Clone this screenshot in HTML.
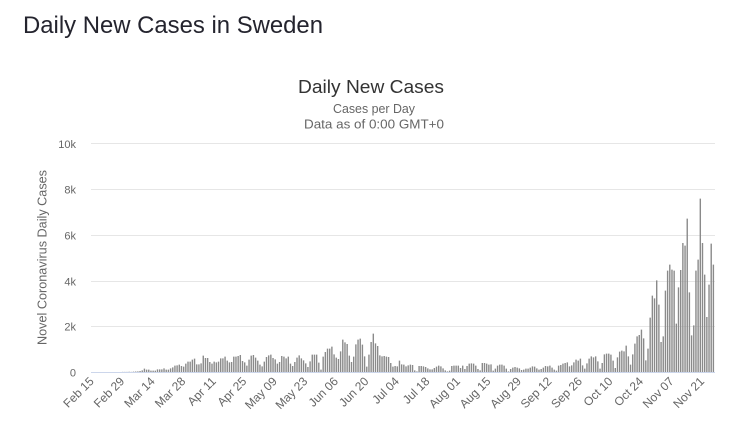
<!DOCTYPE html>
<html>
<head>
<meta charset="utf-8">
<style>
html,body{margin:0;padding:0;background:#fff;width:729px;height:428px;overflow:hidden}
svg{display:block}
text{font-family:"Liberation Sans",Arial,sans-serif}
</style>
</head>
<body>
<svg width="729" height="428" viewBox="0 0 729 428" xmlns="http://www.w3.org/2000/svg">
<rect width="729" height="428" fill="#fff"/>
<text x="23" y="33" font-size="24" fill="#24242e" textLength="300" lengthAdjust="spacingAndGlyphs">Daily New Cases in Sweden</text>
<text x="371" y="93" font-size="18.5" fill="#333" text-anchor="middle" textLength="146" lengthAdjust="spacingAndGlyphs">Daily New Cases</text>
<text x="374" y="113" font-size="12.5" fill="#666" text-anchor="middle" textLength="82" lengthAdjust="spacingAndGlyphs">Cases per Day</text>
<text x="374" y="128.5" font-size="12.5" fill="#666" text-anchor="middle" textLength="140" lengthAdjust="spacingAndGlyphs">Data as of 0:00 GMT+0</text>

<path d="M91 143.5H715M91 189.5H715M91 235.5H715M91 281.5H715M91 326.5H715" stroke="#e6e6e6" stroke-width="1" fill="none"/>

<g font-size="11" fill="#666" text-anchor="end">
<text x="76" y="148">10k</text>
<text x="76" y="193.5">8k</text>
<text x="76" y="239.5">6k</text>
<text x="76" y="285.5">4k</text>
<text x="76" y="330.5">2k</text>
<text x="76" y="376.5">0</text>
</g>

<text transform="translate(46.5,257.5) rotate(-90)" text-anchor="middle" font-size="12.5" fill="#666" textLength="175" lengthAdjust="spacingAndGlyphs">Novel Coronavirus Daily Cases</text>

<g transform="translate(117.55,372) scale(1,-0.33333)">
<path fill="#8a8a8a" d="M0 0m2.18 0m2.18 0v.3h1.4v-.3m.78 0v.3h1.4v-.3m.78 0v.5h1.4v-.5m.78 0v.8h1.4v-.8m.78 0v.5h1.4v-.5m.78 0v1h1.4v-1m.78 0v1.5h1.4v-1.5m.78 0v2h1.4v-2m.78 0
v3h1.4v-3m.78 0v5h1.4v-5m.78 0v10h1.4v-10m.78 0v7h1.4v-7m.78 0v7h1.4v-7m.78 0v4h1.4v-4m.78 0v4h1.4v-4m.78 0v4h1.4v-4m.78 0v8h1.4v-8m.78 0v8h1.4v-8m.78 0
v8h1.4v-8m.78 0v11h1.4v-11m.78 0v7h1.4v-7m.78 0v7h1.4v-7m.78 0v11h1.4v-11m.78 0v14h1.4v-14m.78 0v19h1.4v-19m.78 0v20h1.4v-20m.78 0v22h1.4v-22m.78 0v18h1.4v-18m.78 0
v16h1.4v-16m.78 0v25h1.4v-25m.78 0v31h1.4v-31m.78 0v31h1.4v-31m.78 0v37h1.4v-37m.78 0v40h1.4v-40m.78 0v23h1.4v-23m.78 0v23h1.4v-23m.78 0v26h1.4v-26m.78 0v49h1.4v-49m.78 0
v42h1.4v-42m.78 0v42h1.4v-42m.78 0v30h1.4v-30m.78 0v25h1.4v-25m.78 0v31h1.4v-31m.78 0v29h1.4v-29m.78 0v31h1.4v-31m.78 0v41h1.4v-41m.78 0v41h1.4v-41m.78 0v46h1.4v-46m.78 0
v34h1.4v-34m.78 0v29h1.4v-29m.78 0v30h1.4v-30m.78 0v46h1.4v-46m.78 0v46h1.4v-46m.78 0v48h1.4v-48m.78 0v51h1.4v-51m.78 0v33h1.4v-33m.78 0v29h1.4v-29m.78 0v19h1.4v-19m.78 0
v37h1.4v-37m.78 0
v49h1.4v-49m.78 0v51h1.4v-51m.78 0v43h1.4v-43m.78 0v34h1.4v-34m.78 0v22h1.4v-22m.78 0v17h1.4v-17m.78 0v31h1.4v-31m.78 0v45h1.4v-45m.78 0v50h1.4v-50m.78 0v52h1.4v-52m.78 0
v42h1.4v-42m.78 0v38h1.4v-38m.78 0v25h1.4v-25m.78 0v30h1.4v-30m.78 0v48h1.4v-48m.78 0v46h1.4v-46m.78 0v41h1.4v-41m.78 0v46h1.4v-46m.78 0v25h1.4v-25m.78 0v18h1.4v-18m.78 0
v30h1.4v-30m.78 0v43h1.4v-43m.78 0v50h1.4v-50m.78 0v41h1.4v-41m.78 0v35h1.4v-35m.78 0v26h1.4v-26m.78 0v15h1.4v-15m.78 0v32h1.4v-32m.78 0v52h1.4v-52m.78 0v52h1.4v-52m.78 0
v52h1.4v-52m.78 0v28h1.4v-28m.78 0v7h1.4v-7m.78 0v46h1.4v-46m.78 0v60h1.4v-60m.78 0v70h1.4v-70m.78 0v70h1.4v-70m.78 0v76h1.4v-76m.78 0v53h1.4v-53m.78 0v43h1.4v-43m.78 0
v39h1.4v-39m.78 0v62h1.4v-62m.78 0v97h1.4v-97m.78 0v89h1.4v-89m.78 0v84h1.4v-84m.78 0v49h1.4v-49m.78 0v30h1.4v-30m.78 0v46h1.4v-46m.78 0v83h1.4v-83m.78 0v97h1.4v-97m.78 0
v100h1.4v-100m.78 0v82h1.4v-82m.78 0v47h1.4v-47m.78 0v16h1.4v-16m.78 0v52h1.4v-52m.78 0v90h1.4v-90m.78 0v115h1.4v-115m.78 0v86h1.4v-86m.78 0v78h1.4v-78m.78 0v50h1.4v-50m.78 0
v47h1.4v-47m.78 0v48h1.4v-48m.78 0v46h1.4v-46m.78 0v45h1.4v-45m.78 0v27h1.4v-27m.78 0v16h1.4v-16m.78 0v18h1.4v-18m.78 0v17h1.4v-17m.78 0v34h1.4v-34m.78 0v23h1.4v-23m.78 0
v22h1.4v-22m.78 0v17h1.4v-17m.78 0v20h1.4v-20m.78 0
v22h1.4v-22m.78 0v21h1.4v-21m.78 0v5h1.4v-5m.78 0v2h1.4v-2m.78 0v18h1.4v-18m.78 0v18h1.4v-18m.78 0v17h1.4v-17m.78 0v15h1.4v-15m.78 0v11h1.4v-11m.78 0v8h1.4v-8m.78 0
v8h1.4v-8m.78 0v12h1.4v-12m.78 0v16h1.4v-16m.78 0v19h1.4v-19m.78 0v17h1.4v-17m.78 0v11h1.4v-11m.78 0v5h1.4v-5m.78 0v2h1.4v-2m.78 0v4h1.4v-4m.78 0v18h1.4v-18m.78 0
v19h1.4v-19m.78 0v19h1.4v-19m.78 0v19h1.4v-19m.78 0v12h1.4v-12m.78 0v19h1.4v-19m.78 0v9h1.4v-9m.78 0v18h1.4v-18m.78 0v25h1.4v-25m.78 0v26h1.4v-26m.78 0v25h1.4v-25m.78 0
v19h1.4v-19m.78 0v9h1.4v-9m.78 0v5h1.4v-5m.78 0v27h1.4v-27m.78 0v27h1.4v-27m.78 0v25h1.4v-25m.78 0v22h1.4v-22m.78 0v23h1.4v-23m.78 0
v4h1.4v-4m.78 0v10h1.4v-10m.78 0v19h1.4v-19m.78 0v22h1.4v-22m.78 0v22h1.4v-22m.78 0v19h1.4v-19m.78 0v10h1.4v-10m.78 0v2h1.4v-2m.78 0v9h1.4v-9m.78 0v13h1.4v-13m.78 0
v15h1.4v-15m.78 0v13h1.4v-13m.78 0v11h1.4v-11m.78 0v6h1.4v-6m.78 0v7h1.4v-7m.78 0v10h1.4v-10m.78 0v10h1.4v-10m.78 0v13h1.4v-13m.78 0v17h1.4v-17m.78 0v16h1.4v-16m.78 0
v11h1.4v-11m.78 0v7h1.4v-7m.78 0v9h1.4v-9m.78 0v13h1.4v-13m.78 0v18h1.4v-18m.78 0v17h1.4v-17m.78 0v19h1.4v-19m.78 0v13h1.4v-13m.78 0v7h1.4v-7m.78 0v4h1.4v-4m.78 0
v19h1.4v-19m.78 0v21h1.4v-21m.78 0v25h1.4v-25m.78 0v27h1.4v-27m.78 0v29h1.4v-29m.78 0v17h1.4v-17m.78 0v20h1.4v-20m.78 0v29h1.4v-29m.78 0
v37h1.4v-37m.78 0v34h1.4v-34m.78 0v40h1.4v-40m.78 0v20h1.4v-20m.78 0v10h1.4v-10m.78 0v26h1.4v-26m.78 0v40h1.4v-40m.78 0v47h1.4v-47m.78 0v44h1.4v-44m.78 0v47h1.4v-47m.78 0
v32h1.4v-32m.78 0v10h1.4v-10m.78 0v27h1.4v-27m.78 0v53h1.4v-53m.78 0v55h1.4v-55m.78 0v55h1.4v-55m.78 0v52h1.4v-52m.78 0v34h1.4v-34m.78 0v12h1.4v-12m.78 0v44h1.4v-44m.78 0
v61h1.4v-61m.78 0v64h1.4v-64m.78 0v62h1.4v-62m.78 0v79h1.4v-79m.78 0v47h1.4v-47m.78 0v22h1.4v-22m.78 0v53h1.4v-53m.78 0v85h1.4v-85m.78 0v107h1.4v-107m.78 0v111h1.4v-111m.78 0
v127h1.4v-127m.78 0v101h1.4v-101m.78 0v35h1.4v-35m.78 0v70h1.4v-70m.78 0v163h1.4v-163m.78 0v229h1.4v-229m.78 0v221h1.4v-221m.78 0v275h1.4v-275m.78 0v202h1.4v-202m.78 0v90h1.4v-90m.78 0
v107h1.4v-107m.78 0v244h1.4v-244m.78 0v304h1.4v-304m.78 0v322h1.4v-322m.78 0v307h1.4v-307m.78 0v304h1.4v-304m.78 0v145h1.4v-145m.78 0v254h1.4v-254m.78 0v306h1.4v-306m.78 0v387h1.4v-387m.78 0
v379h1.4v-379m.78 0v460h1.4v-460m.78 0v239h1.4v-239m.78 0v110h1.4v-110m.78 0v140h1.4v-140m.78 0v304h1.4v-304m.78 0v337h1.4v-337m.78 0v520h1.4v-520m.78 0v387h1.4v-387m.78 0v292h1.4v-292m.78 0
v165h1.4v-165m.78 0v262h1.4v-262m.78 0v385h1.4v-385m.78 0v322h1.4v-322m.78 0"/>
</g>

<path d="M91 372.5H715" stroke="#ccd6eb" stroke-width="1" fill="none"/>

<g font-size="12" fill="#666" text-anchor="end">
<text transform="translate(94.6,382) rotate(-45)">Feb 15</text>
<text transform="translate(125.1,382) rotate(-45)">Feb 29</text>
<text transform="translate(155.6,382) rotate(-45)">Mar 14</text>
<text transform="translate(186.2,382) rotate(-45)">Mar 28</text>
<text transform="translate(216.7,382) rotate(-45)">Apr 11</text>
<text transform="translate(247.2,382) rotate(-45)">Apr 25</text>
<text transform="translate(277.7,382) rotate(-45)">May 09</text>
<text transform="translate(308.2,382) rotate(-45)">May 23</text>
<text transform="translate(338.8,382) rotate(-45)">Jun 06</text>
<text transform="translate(369.3,382) rotate(-45)">Jun 20</text>
<text transform="translate(399.8,382) rotate(-45)">Jul 04</text>
<text transform="translate(430.3,382) rotate(-45)">Jul 18</text>
<text transform="translate(460.8,382) rotate(-45)">Aug 01</text>
<text transform="translate(491.4,382) rotate(-45)">Aug 15</text>
<text transform="translate(521.9,382) rotate(-45)">Aug 29</text>
<text transform="translate(552.4,382) rotate(-45)">Sep 12</text>
<text transform="translate(582.9,382) rotate(-45)">Sep 26</text>
<text transform="translate(613.4,382) rotate(-45)">Oct 10</text>
<text transform="translate(644.0,382) rotate(-45)">Oct 24</text>
<text transform="translate(674.5,382) rotate(-45)">Nov 07</text>
<text transform="translate(705.0,382) rotate(-45)">Nov 21</text>
</g>
</svg>
</body>
</html>
